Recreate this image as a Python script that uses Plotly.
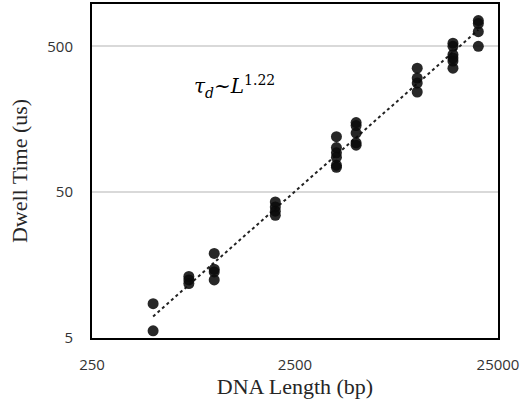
import numpy as np
import plotly.graph_objects as go

# DNA length (bp) and dwell time (us)
length_bp = [500, 500,
             750, 750, 750,
             1000, 1000, 1000, 1000,
             2000, 2000, 2000, 2000,
             4000, 4000, 4000, 4000, 4000, 4000,
             5000, 5000, 5000, 5000, 5000,
             10000, 10000, 10000, 10000,
             15000, 15000, 15000, 15000, 15000, 15000,
             20000, 20000, 20000, 20000]
dwell_us = [8.6, 5.6,
            13.2, 12.5, 11.8,
            19.0, 14.8, 14.2, 12.5,
            42.8, 39.6, 37.0, 34.7,
            120, 101, 93, 86.6, 76.5, 74,
            150, 143, 127, 109, 105,
            354, 303, 280, 243,
            525, 500, 438, 415, 396, 354,
            750, 716, 630, 500]

x_ticks = [250, 2500, 25000]
x_tick_text = ["250", "2500", "25000"]
y_ticks = [5, 50, 500]
y_tick_text = ["5", "50", "500"]

# power-law trendline from a log-log fit
lx = np.log10(length_bp)
ly = np.log10(dwell_us)
slope, intercept = np.polyfit(lx, ly, 1)
fit_x = np.logspace(np.log10(min(length_bp)), np.log10(max(length_bp)), 50)
fit_y = 10 ** (intercept + slope * np.log10(fit_x))

fig = go.Figure()
fig.add_trace(go.Scatter(x=fit_x, y=fit_y, mode="lines",
                         line=dict(color="#222222", width=2, dash="dot"),
                         hoverinfo="skip", showlegend=False))
fig.add_trace(go.Scatter(x=length_bp, y=dwell_us, mode="markers",
                         marker=dict(size=11, color="rgba(10,10,10,0.88)",
                                     line=dict(width=0)),
                         showlegend=False))

fig.add_annotation(x=0.247, y=0.752, xref="paper", yref="paper",
                   xanchor="left", yanchor="middle",
                   text="<i>τ</i><sub><i>d</i></sub>~<i>L</i><sup>1.22</sup>",
                   showarrow=False,
                   font=dict(family="DejaVu Serif", size=20, color="#000000"))

fig.update_xaxes(type="log", range=[np.log10(250), np.log10(25000)],
                 tickvals=x_ticks, ticktext=x_tick_text,
                 showgrid=False, zeroline=False, ticks="",
                 showline=True, linecolor="#000000", linewidth=2, mirror=True,
                 tickfont=dict(family="Open Sans", size=15, color="#333333"),
                 ticklabelstandoff=12,
                 title=dict(text="DNA Length (bp)", standoff=6,
                            font=dict(family="Liberation Serif", size=22, color="#262626")))
fig.update_yaxes(type="log", range=[np.log10(5), np.log10(975)],
                 tickvals=y_ticks, ticktext=y_tick_text,
                 showgrid=True, gridcolor="#d9d9d9", gridwidth=1.5,
                 zeroline=False, ticks="",
                 showline=True, linecolor="#000000", linewidth=2, mirror=True,
                 tickfont=dict(family="Open Sans", size=15, color="#333333"),
                 ticklabelstandoff=14,
                 title=dict(text="Dwell Time (us)", standoff=14,
                            font=dict(family="Liberation Serif", size=22, color="#262626")))

fig.update_layout(width=522, height=408,
                  margin=dict(l=92, r=24, t=2, b=70),
                  paper_bgcolor="white", plot_bgcolor="white")

fig.write_html("out.html")
